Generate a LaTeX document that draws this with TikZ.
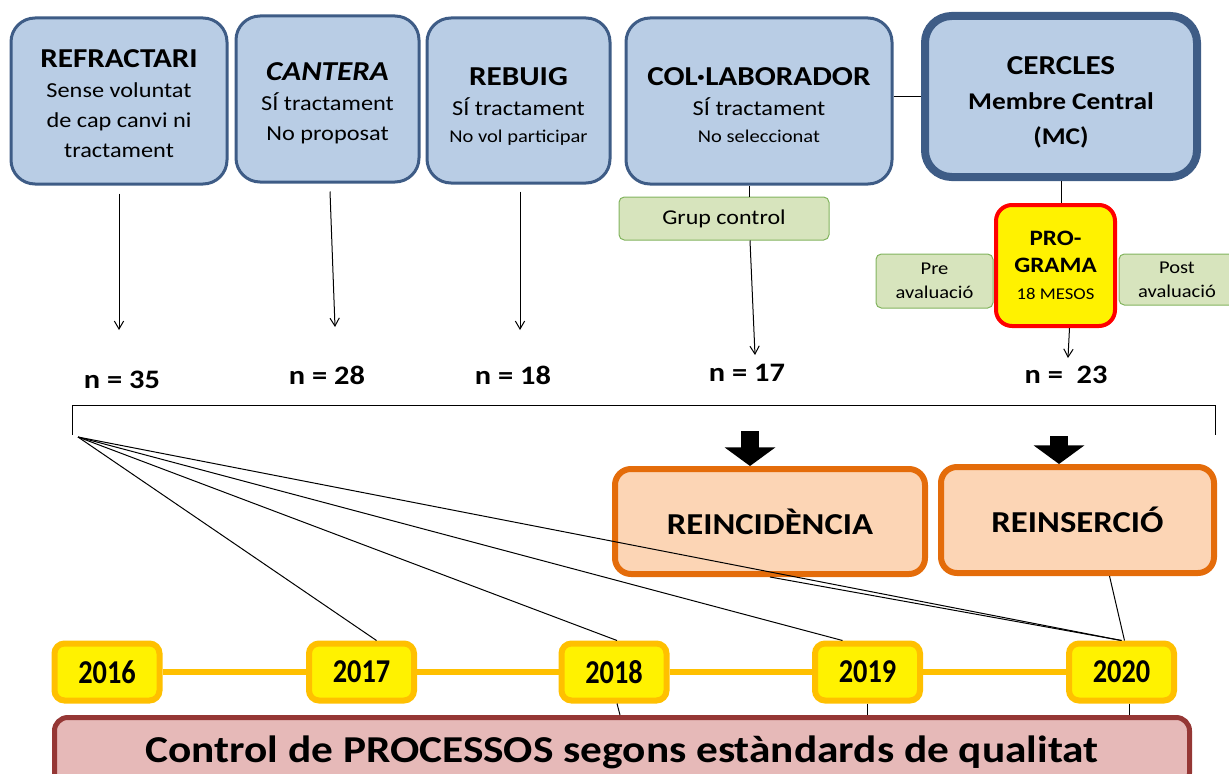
\documentclass[tikz,border=0pt]{standalone}
\usepackage{fontspec}
\setmainfont{Carlito}[FakeStretch=1.14]
\newfontfamily\yearfont{Carlito}[FakeStretch=0.85]
\usetikzlibrary{arrows.meta,calc}

\definecolor{boxblue}{RGB}{185,205,229}
\definecolor{lineblue}{RGB}{62,92,134}
\definecolor{boxgreen}{RGB}{215,228,189}
\definecolor{linegreen}{RGB}{130,180,95}
\definecolor{boxpeach}{RGB}{252,213,181}
\definecolor{lineorange}{RGB}{228,108,10}
\definecolor{yearline}{RGB}{255,192,0}
\definecolor{boxpink}{RGB}{230,185,184}
\definecolor{linered}{RGB}{149,55,53}

\newcommand{\titlef}{\fontsize{20.5}{24}\selectfont\bfseries}
\newcommand{\subf}{\fontsize{16}{22.5}\selectfont}
\newcommand{\smallf}{\fontsize{13.5}{20}\selectfont}

\tikzset{every picture/.style={line width=0.75pt}}

\begin{document}
\begin{tikzpicture}[x=0.75pt,y=0.75pt,yscale=-1,xscale=1,
  group/.style={draw=lineblue, fill=boxblue, line width=2.25pt, rounded corners=18pt, align=center, inner sep=0pt, font=\subf},
  note/.style={draw=linegreen, fill=boxgreen, line width=0.75pt, rounded corners=4pt, align=center, inner sep=0pt},
  count/.style={font=\fontsize{20}{24}\selectfont\bfseries},
  result/.style={draw=lineorange, fill=boxpeach, line width=4.5pt, rounded corners=12pt, font=\fontsize{22.8}{26}\selectfont\bfseries},
  year/.style={draw=yearline, fill=yellow, line width=4.5pt, rounded corners=7.5pt, minimum width=78.75pt, minimum height=42.75pt, font={\yearfont\fontsize{25}{30}\selectfont\bfseries}},
  timeline/.style={draw=yearline, line width=4pt},
  arr/.style={-{Straight Barb[length=6pt,width=7pt]}},
  bigarrow/.style={-{Triangle[length=14pt,width=37.5pt]}, line width=13.5pt}]
\useasboundingbox (0,0) rectangle (1229,774);

% Text Node
\node (refr) at (119,101) [group, minimum width=162pt, minimum height=124.5pt] {{\titlef\rule{0pt}{18pt}REFRACTARI}\\Sense voluntat\\de cap canvi ni\\tractament};
% Text Node
\node (cant) at (327.5,99) [group, minimum width=137.25pt, minimum height=124.5pt] {{\titlef\rule{0pt}{20pt}\itshape CANTERA}\\SÍ tractament\\No proposat};
% Text Node
\node (rebu) at (518.5,100.5) [group, minimum width=137.25pt, minimum height=123.75pt] {{\titlef\rule{0pt}{22pt}REBUIG}\\SÍ tractament\\[-2pt]{\smallf No vol participar}};
% Text Node
\node (coll) at (759,101) [group, minimum width=199.5pt, minimum height=124.5pt] {{\titlef\rule{0pt}{20pt}COL·LABORADOR}\\SÍ tractament\\[-2pt]{\smallf No seleccionat}};
% Text Node
\node (cerc) at (1061,96.5) [group, line width=6pt, rounded corners=20pt, minimum width=204pt, minimum height=120.75pt, font=\fontsize{18}{26}\selectfont\bfseries] {{\titlef\rule{0pt}{22pt}CERCLES}\\Membre Central\\(MC)};

% Text Node
\node (grup) at (724,218.5) [note, minimum width=157.5pt, minimum height=32.25pt, font=\fontsize{15.8}{19}\selectfont] {Grup control};
% Text Node
\node (prog) at (1055.5,265.5) [draw=red, fill=yellow, line width=3pt, rounded corners=12pt, align=center, inner sep=0pt, minimum width=89.25pt, minimum height=90.75pt, font=\fontsize{16.5}{20}\selectfont\bfseries] {PRO-\\GRAMA\\{\fontsize{12.3}{15}\selectfont\mdseries 18 MESOS}};
% Text Node
\node (pre) at (934.5,281) [note, minimum width=87.75pt, minimum height=40.5pt, font=\fontsize{13.5}{18}\selectfont] {Pre\\avaluació};
% Text Node
\node (post) at (1177,279.5) [note, minimum width=87pt, minimum height=38.25pt, font=\fontsize{13.5}{18}\selectfont] {Post\\avaluació};

% Text Node
\node (n35) at (122,380) [count] {n = 35};
\node (n28) at (327,375) [count] {n = 28};
\node (n18) at (513,375) [count] {n = 18};
\node (n17) at (747,373) [count] {n = 17};
\node (n23) at (1066,375) [count] {n =\ \ 23};

% Text Node
\node (reinc) at (770,521.5) [result, minimum width=232.5pt, minimum height=78.75pt] {REINCIDÈNCIA};
\node (reins) at (1077.5,520) [result, minimum width=204.75pt, minimum height=79.5pt] {REINSERCIÓ};

% Text Node
\node (y16) at (107,672) [year] {2016};
\node (y17) at (361.5,672) [year] {2017};
\node (y18) at (614,672) [year] {2018};
\node (y19) at (867.5,672) [year] {2019};
\node (y20) at (1121.5,672) [year] {2020};
% Connection
\foreach \a/\b in {y16/y17,y17/y18,y18/y19,y19/y20}
  \draw[timeline] (\a.east) -- (\b.west);

% Text Node
\node (ctrl) at (622,752) [draw=linered, fill=boxpink, line width=3.75pt, rounded corners=10pt, minimum width=851.25pt, minimum height=51.75pt, font=\fontsize{28.5}{32}\selectfont\bfseries] {Control de PROCESSOS segons estàndards de qualitat};

% free ends
\coordinate (t1) at (119,330);
\coordinate (t2) at (335,327);
\coordinate (t3) at (520,330);
\coordinate (t4) at (755,355);
\coordinate (t5) at (1068,358);
\coordinate (b1) at (72,435);
\coordinate (b2) at (72,405);
\coordinate (b3) at (1215,405);
\coordinate (b4) at (1215,435);
\coordinate (fan) at (78,437);
\coordinate (k1) at (750,431);
\coordinate (k2) at (1059,436);

% Connection
\draw[arr] ($(refr.south)+(0,8)$) -- (t1);
\draw[arr] ($(cant.south)+(2.5,8)$) -- (t2);
\draw[arr] ($(rebu.south)+(1.5,7)$) -- (t3);
\draw ($(coll.south)+(-10,0)$) -- ($(grup.north)+(25,0)$);
\draw[arr] ($(grup.south)+(26,0)$) -- (t4);
\draw (coll.east |- cerc.west) -- (cerc.west);
\draw (cerc.south) -- (cerc.south |- prog.north);
\draw[arr] ($(prog.south)+(14,0)$) -- (t5);

% Connection
\draw (b1) -- (b2) -- (b3) -- (b4);
\draw (fan) -- ($(y17.north)+(15,0)$);
\draw (fan) -- ($(y18.north)+(3,0)$);
\draw (fan) -- ($(y19.north)+(-25,0)$);
\draw (fan) -- (y20.north);
\draw (reinc.south) -- (y20.north);
\draw ($(reins.south)+(32,0)$) -- ($(y20.north)+(3,0)$);
\draw[bigarrow] (k1) -- (k1 |- reinc.north);
\draw[bigarrow] (k2) -- (k2 |- reins.north);

% Connection
\draw ($(y18.south)+(3,0)$) -- ($(y18.south |- ctrl.north)+(6,0)$);
\draw (y19.south) -- (y19.south |- ctrl.north);
\draw ($(y20.south)+(8,0)$) -- ($(y20.south |- ctrl.north)+(8,0)$);

\end{tikzpicture}
\end{document}
